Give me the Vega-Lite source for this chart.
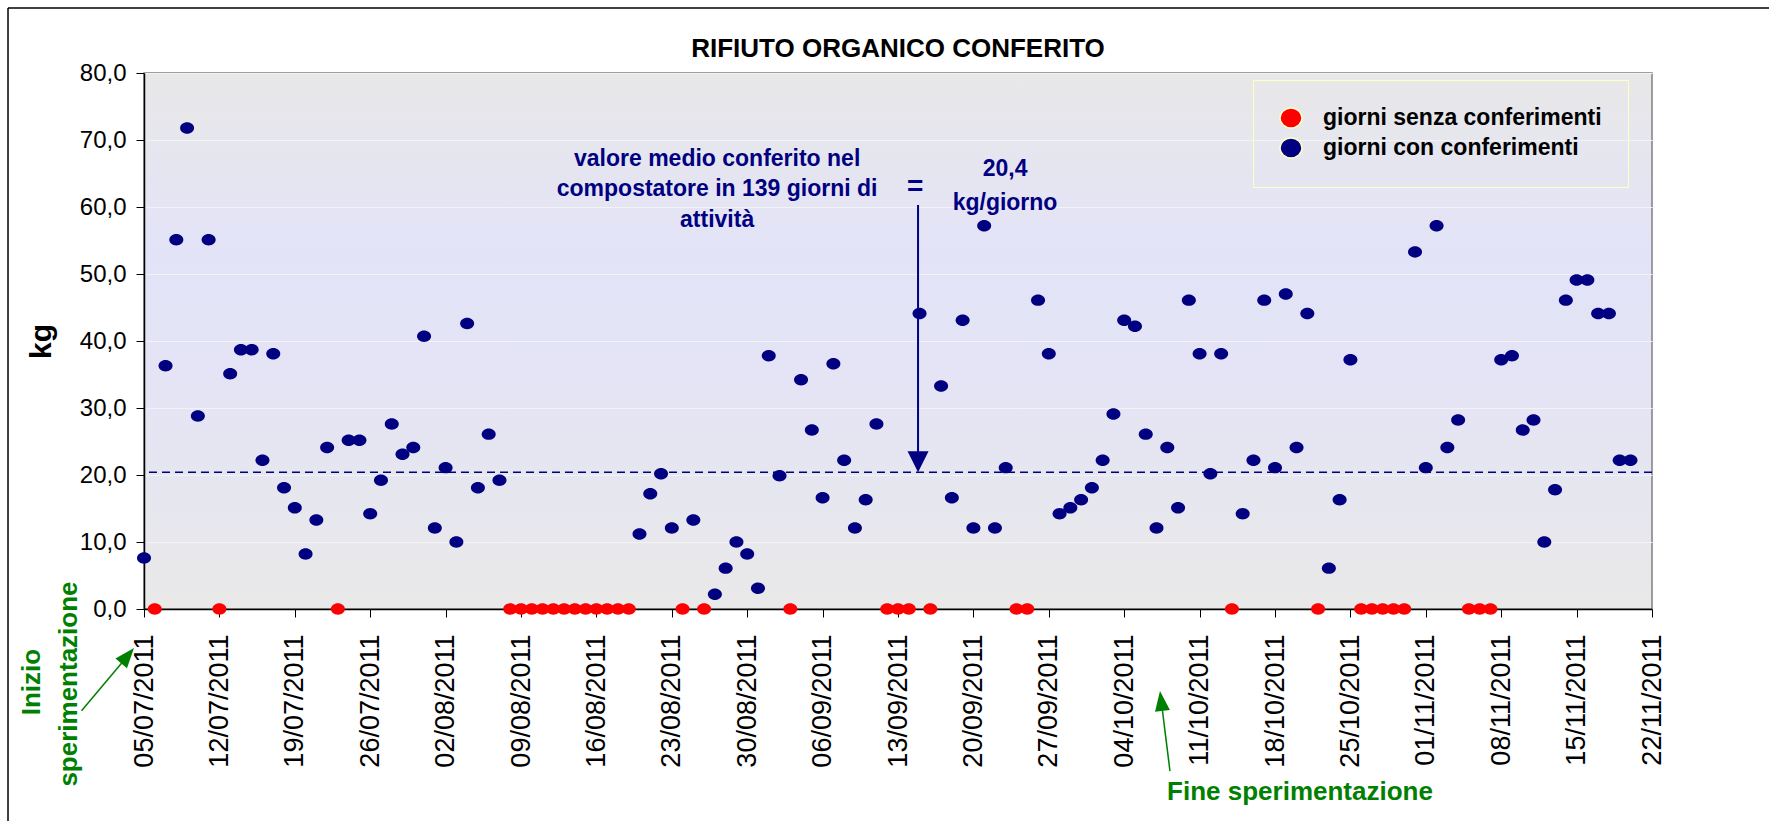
{
  "$schema": "https://vega.github.io/schema/vega-lite/v6.json",
  "width": 1508,
  "height": 536,
  "autosize": "none",
  "padding": {"left": 144, "top": 73, "right": 117, "bottom": 212},
  "background": "#ffffff",
  "title": {
    "text": "RIFIUTO ORGANICO CONFERITO",
    "fontSize": 26,
    "fontWeight": "bold",
    "font": "Liberation Sans",
    "color": "#000000",
    "anchor": "middle",
    "frame": "group",
    "offset": -55
  },
  "datasets": {
    "giorni": [
      {"date": "2011-07-05T00:00", "kg": 7.6, "tipo": "giorni con conferimenti"},
      {"date": "2011-07-06T00:00", "kg": 0, "tipo": "giorni senza conferimenti"},
      {"date": "2011-07-07T00:00", "kg": 36.3, "tipo": "giorni con conferimenti"},
      {"date": "2011-07-08T00:00", "kg": 55.1, "tipo": "giorni con conferimenti"},
      {"date": "2011-07-09T00:00", "kg": 71.8, "tipo": "giorni con conferimenti"},
      {"date": "2011-07-10T00:00", "kg": 28.8, "tipo": "giorni con conferimenti"},
      {"date": "2011-07-11T00:00", "kg": 55.1, "tipo": "giorni con conferimenti"},
      {"date": "2011-07-12T00:00", "kg": 0, "tipo": "giorni senza conferimenti"},
      {"date": "2011-07-13T00:00", "kg": 35.1, "tipo": "giorni con conferimenti"},
      {"date": "2011-07-14T00:00", "kg": 38.7, "tipo": "giorni con conferimenti"},
      {"date": "2011-07-15T00:00", "kg": 38.7, "tipo": "giorni con conferimenti"},
      {"date": "2011-07-16T00:00", "kg": 22.2, "tipo": "giorni con conferimenti"},
      {"date": "2011-07-17T00:00", "kg": 38.1, "tipo": "giorni con conferimenti"},
      {"date": "2011-07-18T00:00", "kg": 18.1, "tipo": "giorni con conferimenti"},
      {"date": "2011-07-19T00:00", "kg": 15.1, "tipo": "giorni con conferimenti"},
      {"date": "2011-07-20T00:00", "kg": 8.2, "tipo": "giorni con conferimenti"},
      {"date": "2011-07-21T00:00", "kg": 13.3, "tipo": "giorni con conferimenti"},
      {"date": "2011-07-22T00:00", "kg": 24.1, "tipo": "giorni con conferimenti"},
      {"date": "2011-07-23T00:00", "kg": 0, "tipo": "giorni senza conferimenti"},
      {"date": "2011-07-24T00:00", "kg": 25.2, "tipo": "giorni con conferimenti"},
      {"date": "2011-07-25T00:00", "kg": 25.2, "tipo": "giorni con conferimenti"},
      {"date": "2011-07-26T00:00", "kg": 14.2, "tipo": "giorni con conferimenti"},
      {"date": "2011-07-27T00:00", "kg": 19.2, "tipo": "giorni con conferimenti"},
      {"date": "2011-07-28T00:00", "kg": 27.6, "tipo": "giorni con conferimenti"},
      {"date": "2011-07-29T00:00", "kg": 23.1, "tipo": "giorni con conferimenti"},
      {"date": "2011-07-30T00:00", "kg": 24.1, "tipo": "giorni con conferimenti"},
      {"date": "2011-07-31T00:00", "kg": 40.7, "tipo": "giorni con conferimenti"},
      {"date": "2011-08-01T00:00", "kg": 12.1, "tipo": "giorni con conferimenti"},
      {"date": "2011-08-02T00:00", "kg": 21.1, "tipo": "giorni con conferimenti"},
      {"date": "2011-08-03T00:00", "kg": 10.0, "tipo": "giorni con conferimenti"},
      {"date": "2011-08-04T00:00", "kg": 42.6, "tipo": "giorni con conferimenti"},
      {"date": "2011-08-05T00:00", "kg": 18.1, "tipo": "giorni con conferimenti"},
      {"date": "2011-08-06T00:00", "kg": 26.1, "tipo": "giorni con conferimenti"},
      {"date": "2011-08-07T00:00", "kg": 19.2, "tipo": "giorni con conferimenti"},
      {"date": "2011-08-08T00:00", "kg": 0, "tipo": "giorni senza conferimenti"},
      {"date": "2011-08-09T00:00", "kg": 0, "tipo": "giorni senza conferimenti"},
      {"date": "2011-08-10T00:00", "kg": 0, "tipo": "giorni senza conferimenti"},
      {"date": "2011-08-11T00:00", "kg": 0, "tipo": "giorni senza conferimenti"},
      {"date": "2011-08-12T00:00", "kg": 0, "tipo": "giorni senza conferimenti"},
      {"date": "2011-08-13T00:00", "kg": 0, "tipo": "giorni senza conferimenti"},
      {"date": "2011-08-14T00:00", "kg": 0, "tipo": "giorni senza conferimenti"},
      {"date": "2011-08-15T00:00", "kg": 0, "tipo": "giorni senza conferimenti"},
      {"date": "2011-08-16T00:00", "kg": 0, "tipo": "giorni senza conferimenti"},
      {"date": "2011-08-17T00:00", "kg": 0, "tipo": "giorni senza conferimenti"},
      {"date": "2011-08-18T00:00", "kg": 0, "tipo": "giorni senza conferimenti"},
      {"date": "2011-08-19T00:00", "kg": 0, "tipo": "giorni senza conferimenti"},
      {"date": "2011-08-20T00:00", "kg": 11.2, "tipo": "giorni con conferimenti"},
      {"date": "2011-08-21T00:00", "kg": 17.2, "tipo": "giorni con conferimenti"},
      {"date": "2011-08-22T00:00", "kg": 20.2, "tipo": "giorni con conferimenti"},
      {"date": "2011-08-23T00:00", "kg": 12.1, "tipo": "giorni con conferimenti"},
      {"date": "2011-08-24T00:00", "kg": 0, "tipo": "giorni senza conferimenti"},
      {"date": "2011-08-25T00:00", "kg": 13.3, "tipo": "giorni con conferimenti"},
      {"date": "2011-08-26T00:00", "kg": 0, "tipo": "giorni senza conferimenti"},
      {"date": "2011-08-27T00:00", "kg": 2.2, "tipo": "giorni con conferimenti"},
      {"date": "2011-08-28T00:00", "kg": 6.1, "tipo": "giorni con conferimenti"},
      {"date": "2011-08-29T00:00", "kg": 10.0, "tipo": "giorni con conferimenti"},
      {"date": "2011-08-30T00:00", "kg": 8.2, "tipo": "giorni con conferimenti"},
      {"date": "2011-08-31T00:00", "kg": 3.1, "tipo": "giorni con conferimenti"},
      {"date": "2011-09-01T00:00", "kg": 37.8, "tipo": "giorni con conferimenti"},
      {"date": "2011-09-02T00:00", "kg": 19.9, "tipo": "giorni con conferimenti"},
      {"date": "2011-09-03T00:00", "kg": 0, "tipo": "giorni senza conferimenti"},
      {"date": "2011-09-04T00:00", "kg": 34.2, "tipo": "giorni con conferimenti"},
      {"date": "2011-09-05T00:00", "kg": 26.7, "tipo": "giorni con conferimenti"},
      {"date": "2011-09-06T00:00", "kg": 16.6, "tipo": "giorni con conferimenti"},
      {"date": "2011-09-07T00:00", "kg": 36.6, "tipo": "giorni con conferimenti"},
      {"date": "2011-09-08T00:00", "kg": 22.2, "tipo": "giorni con conferimenti"},
      {"date": "2011-09-09T00:00", "kg": 12.1, "tipo": "giorni con conferimenti"},
      {"date": "2011-09-10T00:00", "kg": 16.3, "tipo": "giorni con conferimenti"},
      {"date": "2011-09-11T00:00", "kg": 27.6, "tipo": "giorni con conferimenti"},
      {"date": "2011-09-12T00:00", "kg": 0, "tipo": "giorni senza conferimenti"},
      {"date": "2011-09-13T00:00", "kg": 0, "tipo": "giorni senza conferimenti"},
      {"date": "2011-09-14T00:00", "kg": 0, "tipo": "giorni senza conferimenti"},
      {"date": "2011-09-15T00:00", "kg": 44.1, "tipo": "giorni con conferimenti"},
      {"date": "2011-09-16T00:00", "kg": 0, "tipo": "giorni senza conferimenti"},
      {"date": "2011-09-17T00:00", "kg": 33.3, "tipo": "giorni con conferimenti"},
      {"date": "2011-09-18T00:00", "kg": 16.6, "tipo": "giorni con conferimenti"},
      {"date": "2011-09-19T00:00", "kg": 43.1, "tipo": "giorni con conferimenti"},
      {"date": "2011-09-20T00:00", "kg": 12.1, "tipo": "giorni con conferimenti"},
      {"date": "2011-09-21T00:00", "kg": 57.2, "tipo": "giorni con conferimenti"},
      {"date": "2011-09-22T00:00", "kg": 12.1, "tipo": "giorni con conferimenti"},
      {"date": "2011-09-23T00:00", "kg": 21.1, "tipo": "giorni con conferimenti"},
      {"date": "2011-09-24T00:00", "kg": 0, "tipo": "giorni senza conferimenti"},
      {"date": "2011-09-25T00:00", "kg": 0, "tipo": "giorni senza conferimenti"},
      {"date": "2011-09-26T00:00", "kg": 46.1, "tipo": "giorni con conferimenti"},
      {"date": "2011-09-27T00:00", "kg": 38.1, "tipo": "giorni con conferimenti"},
      {"date": "2011-09-28T00:00", "kg": 14.2, "tipo": "giorni con conferimenti"},
      {"date": "2011-09-29T00:00", "kg": 15.1, "tipo": "giorni con conferimenti"},
      {"date": "2011-09-30T00:00", "kg": 16.3, "tipo": "giorni con conferimenti"},
      {"date": "2011-10-01T00:00", "kg": 18.1, "tipo": "giorni con conferimenti"},
      {"date": "2011-10-02T00:00", "kg": 22.2, "tipo": "giorni con conferimenti"},
      {"date": "2011-10-03T00:00", "kg": 29.1, "tipo": "giorni con conferimenti"},
      {"date": "2011-10-04T00:00", "kg": 43.1, "tipo": "giorni con conferimenti"},
      {"date": "2011-10-05T00:00", "kg": 42.2, "tipo": "giorni con conferimenti"},
      {"date": "2011-10-06T00:00", "kg": 26.1, "tipo": "giorni con conferimenti"},
      {"date": "2011-10-07T00:00", "kg": 12.1, "tipo": "giorni con conferimenti"},
      {"date": "2011-10-08T00:00", "kg": 24.1, "tipo": "giorni con conferimenti"},
      {"date": "2011-10-09T00:00", "kg": 15.1, "tipo": "giorni con conferimenti"},
      {"date": "2011-10-10T00:00", "kg": 46.1, "tipo": "giorni con conferimenti"},
      {"date": "2011-10-11T00:00", "kg": 38.1, "tipo": "giorni con conferimenti"},
      {"date": "2011-10-12T00:00", "kg": 20.2, "tipo": "giorni con conferimenti"},
      {"date": "2011-10-13T00:00", "kg": 38.1, "tipo": "giorni con conferimenti"},
      {"date": "2011-10-14T00:00", "kg": 0, "tipo": "giorni senza conferimenti"},
      {"date": "2011-10-15T00:00", "kg": 14.2, "tipo": "giorni con conferimenti"},
      {"date": "2011-10-16T00:00", "kg": 22.2, "tipo": "giorni con conferimenti"},
      {"date": "2011-10-17T00:00", "kg": 46.1, "tipo": "giorni con conferimenti"},
      {"date": "2011-10-18T00:00", "kg": 21.1, "tipo": "giorni con conferimenti"},
      {"date": "2011-10-19T00:00", "kg": 47.0, "tipo": "giorni con conferimenti"},
      {"date": "2011-10-20T00:00", "kg": 24.1, "tipo": "giorni con conferimenti"},
      {"date": "2011-10-21T00:00", "kg": 44.1, "tipo": "giorni con conferimenti"},
      {"date": "2011-10-22T00:00", "kg": 0, "tipo": "giorni senza conferimenti"},
      {"date": "2011-10-23T00:00", "kg": 6.1, "tipo": "giorni con conferimenti"},
      {"date": "2011-10-24T00:00", "kg": 16.3, "tipo": "giorni con conferimenti"},
      {"date": "2011-10-25T00:00", "kg": 37.2, "tipo": "giorni con conferimenti"},
      {"date": "2011-10-26T00:00", "kg": 0, "tipo": "giorni senza conferimenti"},
      {"date": "2011-10-27T00:00", "kg": 0, "tipo": "giorni senza conferimenti"},
      {"date": "2011-10-28T00:00", "kg": 0, "tipo": "giorni senza conferimenti"},
      {"date": "2011-10-29T00:00", "kg": 0, "tipo": "giorni senza conferimenti"},
      {"date": "2011-10-30T00:00", "kg": 0, "tipo": "giorni senza conferimenti"},
      {"date": "2011-10-31T00:00", "kg": 53.3, "tipo": "giorni con conferimenti"},
      {"date": "2011-11-01T00:00", "kg": 21.1, "tipo": "giorni con conferimenti"},
      {"date": "2011-11-02T00:00", "kg": 57.2, "tipo": "giorni con conferimenti"},
      {"date": "2011-11-03T00:00", "kg": 24.1, "tipo": "giorni con conferimenti"},
      {"date": "2011-11-04T00:00", "kg": 28.2, "tipo": "giorni con conferimenti"},
      {"date": "2011-11-05T00:00", "kg": 0, "tipo": "giorni senza conferimenti"},
      {"date": "2011-11-06T00:00", "kg": 0, "tipo": "giorni senza conferimenti"},
      {"date": "2011-11-07T00:00", "kg": 0, "tipo": "giorni senza conferimenti"},
      {"date": "2011-11-08T00:00", "kg": 37.2, "tipo": "giorni con conferimenti"},
      {"date": "2011-11-09T00:00", "kg": 37.8, "tipo": "giorni con conferimenti"},
      {"date": "2011-11-10T00:00", "kg": 26.7, "tipo": "giorni con conferimenti"},
      {"date": "2011-11-11T00:00", "kg": 28.2, "tipo": "giorni con conferimenti"},
      {"date": "2011-11-12T00:00", "kg": 10.0, "tipo": "giorni con conferimenti"},
      {"date": "2011-11-13T00:00", "kg": 17.8, "tipo": "giorni con conferimenti"},
      {"date": "2011-11-14T00:00", "kg": 46.1, "tipo": "giorni con conferimenti"},
      {"date": "2011-11-15T00:00", "kg": 49.1, "tipo": "giorni con conferimenti"},
      {"date": "2011-11-16T00:00", "kg": 49.1, "tipo": "giorni con conferimenti"},
      {"date": "2011-11-17T00:00", "kg": 44.1, "tipo": "giorni con conferimenti"},
      {"date": "2011-11-18T00:00", "kg": 44.1, "tipo": "giorni con conferimenti"},
      {"date": "2011-11-19T00:00", "kg": 22.2, "tipo": "giorni con conferimenti"},
      {"date": "2011-11-20T00:00", "kg": 22.2, "tipo": "giorni con conferimenti"}
    ],
    "media": [{"kg": 20.4}],
    "nota": [
      {"date": "2011-08-27T05:00", "kg": 67.2, "label": "valore medio conferito nel"},
      {"date": "2011-08-27T05:00", "kg": 62.7, "label": "compostatore in 139 giorni di"},
      {"date": "2011-08-27T05:00", "kg": 58.1, "label": "attività"},
      {"date": "2011-09-22T22:30", "kg": 65.7, "label": "20,4"},
      {"date": "2011-09-22T22:30", "kg": 60.6, "label": "kg/giorno"}
    ],
    "uguale": [{"date": "2011-09-14T14:00", "kg": 63.0, "label": "="}],
    "freccia": [{"date": "2011-09-14T20:40", "kg": 60.3, "kg2": 22.0}],
    "puntaFreccia": [{"date": "2011-09-14T20:40", "kg": 21.97}],
    "verdeVerticale": [
      {"date": "2011-06-24T15:30", "kg": -10.9, "label": "Inizio"},
      {"date": "2011-06-28T01:00", "kg": -11.2, "label": "sperimentazione"}
    ],
    "verdeOrizzontale": [{"date": "2011-10-20T07:40", "kg": -27.3, "label": "Fine sperimentazione"}],
    "frecceVerdi": [
      {"date": "2011-06-29T04:50", "kg": -15.2, "date2": "2011-07-03T11:30", "kg2": -7.0},
      {"date": "2011-10-08T06:00", "kg": -24.2, "date2": "2011-10-07T10:30", "kg2": -13.7}
    ],
    "puntaInizio": [{"date": "2011-07-03T11:30", "kg": -6.97}],
    "puntaFine": [{"date": "2011-10-07T10:30", "kg": -13.72}],
    "cornice": [
      {"date": "2011-06-22T09:00", "kg": 89.7, "date2": "2011-06-22T09:00", "kg2": -33},
      {"date": "2011-06-22T09:00", "kg": 89.7, "date2": "2011-12-06T00:00", "kg2": 89.7}
    ]
  },
  "layer": [
    {
      "data": {"name": "giorni"},
      "mark": {"type": "point", "filled": true, "opacity": 1, "size": 196, "strokeWidth": 0, "shape": "M -1,0 A 1,0.82 0 1,1 1,0 A 1,0.82 0 1,1 -1,0 Z"},
      "encoding": {
        "x": {
          "field": "date",
          "type": "temporal",
          "scale": {
            "domain": [{"year": 2011, "month": 7, "date": 5}, {"year": 2011, "month": 11, "date": 22}],
            "nice": false
          },
          "axis": {
            "title": null,
            "values": [
              {"year": 2011, "month": 7, "date": 5}, {"year": 2011, "month": 7, "date": 12},
              {"year": 2011, "month": 7, "date": 19}, {"year": 2011, "month": 7, "date": 26},
              {"year": 2011, "month": 8, "date": 2}, {"year": 2011, "month": 8, "date": 9},
              {"year": 2011, "month": 8, "date": 16}, {"year": 2011, "month": 8, "date": 23},
              {"year": 2011, "month": 8, "date": 30}, {"year": 2011, "month": 9, "date": 6},
              {"year": 2011, "month": 9, "date": 13}, {"year": 2011, "month": 9, "date": 20},
              {"year": 2011, "month": 9, "date": 27}, {"year": 2011, "month": 10, "date": 4},
              {"year": 2011, "month": 10, "date": 11}, {"year": 2011, "month": 10, "date": 18},
              {"year": 2011, "month": 10, "date": 25}, {"year": 2011, "month": 11, "date": 1},
              {"year": 2011, "month": 11, "date": 8}, {"year": 2011, "month": 11, "date": 15},
              {"year": 2011, "month": 11, "date": 22}
            ],
            "format": "%d/%m/%Y",
            "labelAngle": -90,
            "labelFontSize": 27,
            "labelPadding": 17,
            "labelOverlap": false,
            "labelFlush": false,
            "labelBound": false,
            "grid": false,
            "tickSize": 8,
            "domainWidth": 1.5
          }
        },
        "y": {
          "field": "kg",
          "type": "quantitative",
          "scale": {"domain": [0, 80], "nice": false},
          "axis": {
            "title": "kg",
            "values": [0, 10, 20, 30, 40, 50, 60, 70, 80],
            "labelExpr": "replace(format(datum.value, '.1f'), '.', ',')",
            "labelFontSize": 24,
            "labelPadding": 10,
            "labelFlush": false,
            "grid": true,
            "gridColor": "#f3f3f3",
            "gridWidth": 1,
            "tickSize": 8,
            "titleFontSize": 30,
            "titleFontWeight": "bold",
            "titlePadding": 23
          }
        },
        "color": {
          "field": "tipo",
          "type": "nominal",
          "scale": {"domain": ["giorni senza conferimenti", "giorni con conferimenti"], "range": ["#ff0000", "#000080"]},
          "legend": {
            "title": null,
            "orient": "none",
            "legendX": 1109,
            "legendY": 7,
            "padding": 26,
            "strokeColor": "#ffffc4",
            "labelFontSize": 23,
            "labelFontWeight": "bold",
            "labelColor": "#000000",
            "labelLimit": 0,
            "labelOffset": 20,
            "rowPadding": 4,
            "symbolType": "M -1,0 A 1,0.9 0 1,1 1,0 A 1,0.9 0 1,1 -1,0 Z",
            "symbolSize": 484,
            "symbolStrokeColor": "#ffffc8",
            "symbolStrokeWidth": 1.5,
            "symbolOpacity": 1
          }
        }
      }
    },
    {
      "data": {"name": "media"},
      "mark": {"type": "rule", "color": "#000080", "strokeWidth": 1.5, "strokeDash": [8, 5]},
      "encoding": {"y": {"field": "kg", "type": "quantitative"}}
    },
    {
      "data": {"name": "freccia"},
      "mark": {"type": "rule", "color": "#000080", "strokeWidth": 2},
      "encoding": {
        "x": {"field": "date", "type": "temporal"},
        "y": {"field": "kg", "type": "quantitative"},
        "y2": {"field": "kg2"}
      }
    },
    {
      "data": {"name": "puntaFreccia"},
      "mark": {"type": "point", "filled": true, "opacity": 1, "color": "#000080", "size": 441, "strokeWidth": 0, "shape": "M -1,-1 L 1,-1 L 0,1 Z"},
      "encoding": {
        "x": {"field": "date", "type": "temporal"},
        "y": {"field": "kg", "type": "quantitative"}
      }
    },
    {
      "data": {"name": "nota"},
      "mark": {"type": "text", "color": "#000080", "fontSize": 23, "fontWeight": "bold", "align": "center", "baseline": "middle"},
      "encoding": {
        "x": {"field": "date", "type": "temporal"},
        "y": {"field": "kg", "type": "quantitative"},
        "text": {"field": "label"}
      }
    },
    {
      "data": {"name": "uguale"},
      "mark": {"type": "text", "color": "#000080", "fontSize": 28, "fontWeight": "bold", "align": "center", "baseline": "middle"},
      "encoding": {
        "x": {"field": "date", "type": "temporal"},
        "y": {"field": "kg", "type": "quantitative"},
        "text": {"field": "label"}
      }
    },
    {
      "data": {"name": "verdeVerticale"},
      "mark": {"type": "text", "color": "#008000", "fontSize": 26, "fontWeight": "bold", "align": "center", "baseline": "middle", "angle": 270},
      "encoding": {
        "x": {"field": "date", "type": "temporal"},
        "y": {"field": "kg", "type": "quantitative"},
        "text": {"field": "label"}
      }
    },
    {
      "data": {"name": "verdeOrizzontale"},
      "mark": {"type": "text", "color": "#008000", "fontSize": 26, "fontWeight": "bold", "align": "center", "baseline": "middle"},
      "encoding": {
        "x": {"field": "date", "type": "temporal"},
        "y": {"field": "kg", "type": "quantitative"},
        "text": {"field": "label"}
      }
    },
    {
      "data": {"name": "frecceVerdi"},
      "mark": {"type": "rule", "color": "#008000", "strokeWidth": 1.5},
      "encoding": {
        "x": {"field": "date", "type": "temporal"},
        "x2": {"field": "date2"},
        "y": {"field": "kg", "type": "quantitative"},
        "y2": {"field": "kg2"}
      }
    },
    {
      "data": {"name": "puntaInizio"},
      "mark": {"type": "point", "filled": true, "opacity": 1, "color": "#008000", "size": 400, "strokeWidth": 0, "angle": 39.8, "shape": "M 0,-1 L 0.75,1 L -0.75,1 Z"},
      "encoding": {
        "x": {"field": "date", "type": "temporal"},
        "y": {"field": "kg", "type": "quantitative"}
      }
    },
    {
      "data": {"name": "puntaFine"},
      "mark": {"type": "point", "filled": true, "opacity": 1, "color": "#008000", "size": 400, "strokeWidth": 0, "angle": -7.1, "shape": "M 0,-1 L 0.75,1 L -0.75,1 Z"},
      "encoding": {
        "x": {"field": "date", "type": "temporal"},
        "y": {"field": "kg", "type": "quantitative"}
      }
    },
    {
      "data": {"name": "cornice"},
      "mark": {"type": "rule", "color": "#000000", "strokeWidth": 1.5},
      "encoding": {
        "x": {"field": "date", "type": "temporal"},
        "x2": {"field": "date2"},
        "y": {"field": "kg", "type": "quantitative"},
        "y2": {"field": "kg2"}
      }
    }
  ],
  "config": {
    "font": "Liberation Sans",
    "view": {
      "stroke": "#808080",
      "strokeWidth": 1.5,
      "fill": {
        "gradient": "linear",
        "x1": 0, "y1": 0, "x2": 0, "y2": 1,
        "stops": [
          {"offset": 0, "color": "#e8e8e8"},
          {"offset": 0.33, "color": "#e3e3f8"},
          {"offset": 0.6, "color": "#e4e4f5"},
          {"offset": 1, "color": "#e9e9e9"}
        ]
      }
    },
    "axis": {
      "labelFont": "Liberation Sans",
      "labelColor": "#000000",
      "titleFont": "Liberation Sans",
      "titleColor": "#000000",
      "domainColor": "#000000",
      "tickColor": "#000000",
      "domainWidth": 1.5
    },
    "legend": {"labelFont": "Liberation Sans"}
  }
}
